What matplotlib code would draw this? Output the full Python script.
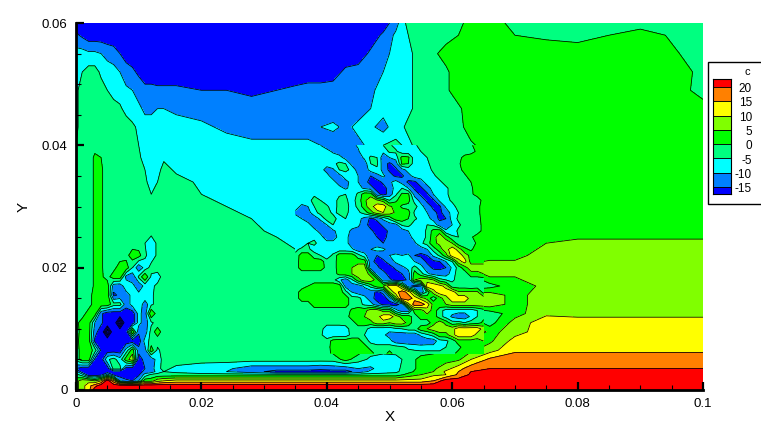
import numpy as np
import matplotlib
matplotlib.use("Agg")
import matplotlib.pyplot as plt
from matplotlib.patches import Rectangle

plt.rcParams["font.family"] = ["Liberation Sans", "DejaVu Sans"]

# grid positions (units of 0.001)
x_grid = [0, 1, 2, 3, 4, 5, 6, 7, 8, 9, 10, 11, 12, 13, 14,
          16, 20, 24, 28, 32,
          35, 37, 39, 41, 43, 45, 47, 49, 51, 53, 55, 57, 59, 61, 63,
          66, 70, 75, 80, 90, 100]
y_grid = [60, 58, 55, 52, 49, 46, 43, 40, 38, 36, 34, 32, 30, 28, 26, 24, 22,
          20, 18.5, 17, 15.5, 14, 12.5, 11, 9.5, 8, 6.5, 5, 3.5, 3, 2.5, 1.5, 0.7, 0]

# c, one row per y_grid value
c_y600 = [-18, -18, -18, -18, -18, -18, -18, -18, -18, -18, -18, -18, -18, -18, -18,
          -18, -18, -18, -18, -18,
          -18, -18, -18, -18, -18, -18, -18, -18, -12, -3, -3, -3, -3, -2, 3,
          3, -2, -3, -3, -2, -3]
c_y580 = [-14, -16, -18, -18, -18, -18, -18, -18, -18, -18, -18, -18, -18, -18, -18,
          -18, -18, -18, -18, -18,
          -18, -18, -18, -18, -18, -18, -18, -14, -9, -5, -3, -3, -2, 0, 3,
          3, 0, -1, -2, 2, -3]
c_y550 = [-8, -8, -9, -9, -10, -12, -13, -15, -17, -18, -18, -18, -18, -18, -18,
          -18, -18, -18, -18, -18,
          -18, -18, -18, -18, -18, -18, -14, -12, -8, -6, -3, -1, 2, 3, 3,
          3, 3, 3, 3, 5, -3]
c_y520 = [-7, -5, -3, -3, -6, -7, -8, -10, -13, -14, -16, -17, -17, -18, -18,
          -18, -18, -18, -18, -18,
          -18, -18, -18, -17, -14, -13, -13, -10, -8, -6, -3, -2, -1, 3, 3,
          3, 3, 3, 3, 5, -1]
c_y490 = [-6, -3, -3, -2, -3, -5, -7, -8, -9, -10, -12, -14, -14, -14, -14,
          -14, -15, -15, -16, -15,
          -14, -13, -13, -13, -13, -13, -11, -8, -8, -6, -3, -3, -1, 3, 3,
          3, 3, 3, 3, 4, -1]
c_y460 = [-6, -3, -2, -2, -2, -2, -3, -4, -7, -8, -9, -11, -11, -10, -10,
          -11, -12, -13, -13, -13,
          -13, -13, -13, -13, -12, -12, -10, -8, -8, -6, -3, -3, -3, -1, 3,
          3, 3, 3, 3, 3, 1]
c_y430 = [-6, -3, -2, -2, -2, -2, -2, -2, -2, -4, -6, -8, -8, -8, -8,
          -8, -9, -11, -12, -12,
          -12, -12, -10, -9, -11, -9, -9, -12, -7, -4, -4, -3, -3, -2, 3,
          3, 3, 3, 3, 3, 3]
c_y400 = [-5, -2, -2, -2, -2, -2, -2, -2, -2, -3, -5, -7, -8, -8, -8,
          -8, -8, -8, -9, -9,
          -9, -9, -10, -13, -12, -11, -9, -5, -4, -6, -3, -3, -3, -3, -1,
          3, 3, 3, 3, 3, 3]
c_y380 = [-4, -2, -3, 1, 0, -3, -3, -3, -3, -3, -4, -7, -8, -7, -6,
          -8, -8, -8, -8, -8,
          -8, -8, -8, -6, -12, -11, -4, -11, -7, 1, -6, -3, -3, 0, 3,
          3, 3, 3, 3, 3, 3]
c_y360 = [-3, -2, -3, 1, 1, -3, -3, -3, -3, -3, -3, -5, -8, -7, -3,
          -6, -8, -8, -8, -8,
          -8, -8, -8, -11, -4, -12, -7, -14, -16, -8, -7, -4, -3, -1, 2,
          3, 3, 3, 3, 3, 3]
c_y340 = [-3, -3, -3, 1, 1, -3, -3, -3, -3, -3, -3, -4, -7, -5, -3,
          -3, -6, -8, -8, -8,
          -8, -8, -8, -12, -10, -7, -16, -16, -9, -16, -13, -7, -3, -3, 0,
          3, 3, 3, 3, 3, 3]
c_y320 = [-2, -2, -3, 1, 1, -3, -3, -3, -3, -3, -3, -3, -5, -3, -3,
          -3, -5, -8, -8, -8,
          -8, -6, -6, -8, -6, -5, 4, -16, -6, 1, -16, -9, -5, -3, -1,
          3, 3, 3, 3, 3, 3]
c_y300 = [-2, -2, -3, 1, 1, -3, -3, -3, -3, -3, -3, -3, -3, -3, -3,
          -3, -3, -5, -8, -8,
          -8, -11, -4, -8, -4, -7, 6, 13, 4, -2, -8, -16, -8, -3, -3,
          3, 3, 3, 3, 3, 3]
c_y280 = [-2, -2, -3, 1, 1, -3, -3, -3, -3, -3, -3, -3, -3, -3, -3,
          -3, -3, -3, -5, -8,
          -8, -12, -12, -4, -7, -7, -12, -16, -12, -1, -7, -16, -8, -3, -2,
          3, 3, 3, 3, 3, 3]
c_y260 = [-2, -2, -3, 1, 1, -3, -3, -3, -3, -3, -3, -3, -3, -3, -3,
          -3, -3, -3, -4, -6,
          -8, -9, -12, -10, -8, -12, -14, -17, -13, -13, -4, 4, -12, -4, -2,
          3, 3, 3, 3, 3, 3]
c_y240 = [-2, -2, -3, 1, 1, -3, -3, -3, -3, -3, -3, -5, -8, -4, -3,
          -3, -3, -3, -3, -4,
          -6, -6, -8, -7, -8, -13, -13, -15, -13, -13, -5, 5, 6, -3, -3,
          3, 3, 5, 6, 6, 6]
c_y220 = [-2, -2, -3, 1, 1, -3, -3, -3, -2, 3, 2, -4, -8, -4, -3,
          -3, -3, -3, -3, -3,
          -4, 2, -4, -7, -7, -8, -13, -14, -9, -9, -16, -9, 5, 13, 3,
          3, 3, 8, 8, 8, 8]
c_y200 = [-2, -2, -3, 1, 1, -3, -2, 3, 3, -5, -14, -8, -3, -3, -3,
          -3, -3, -3, -3, -3,
          -3, 3, 2, -3, 3, 5, -14, -17, -13, -7, -9, -16, -16, -3, 6,
          8, 8, 8, 8, 8, 8]
c_y185 = [-2, -2, -3, 1, 1, -2, 3, 3, -12, -14, -4, 5, -6, -7, -3,
          -3, -3, -3, -3, -3,
          -3, -3, -3, -3, 3, 4, 3, -14, -16, -14, -5, 4, -12, -7, -1,
          5, 5, 8, 8, 8, 8]
c_y170 = [-2, -2, -3, 1, 1, 3, -13, -14, -6, -8, -14, -8, -6, -4, -3,
          -3, -3, -3, -3, -3,
          -3, 0, 2, 3, -13, -13, -13, 5, 13, 8, -14, 13, 10, -3, -4,
          -2, 3, 6, 8, 8, 8]
c_y155 = [-2, -2, -3, 3, 3, 3, -16, -14, -13, -8, -8, -6, -6, -3, -3,
          -3, -3, -3, -3, -3,
          -3, 3, 3, 3, -3, -8, -13, -16, 18, 13, 3, -6, 13, 13, 8,
          8, 3, 8, 8, 8, 8]
c_y140 = [-2, -3, -3, 3, 3, 3, -3, -3, -13, -8, -6, -13, -6, -3, -3,
          -3, -3, -3, -3, -3,
          -3, 3, 3, 3, 1, -3, -6, -16, -16, 18, 16, 3, 8, 8, 8,
          8, 3, 8, 8, 8, 8]
c_y125 = [-2, -3, 3, 3, -14, -18, -18, -18, -18, -18, -8, -13, 5, -3, -3,
          -3, -3, -3, -3, -3,
          -3, -3, -3, -3, -3, 3, 8, 13, 5, 3, 5, 3, -7, -13, -8,
          -3, 3, 9, 8, 8, 8]
c_y110 = [-2, 3, 3, -10, -14, -18, -18, -24, -18, -18, -8, -13, -6, -3, -3,
          -3, -3, -3, -3, -3,
          -3, -3, -3, -3, -3, 3, 8, 8, 3, 3, -3, 3, -3, -3, 3,
          -2, 7, 13, 13, 13, 13]
c_y095 = [-3, 3, 3, -13, -18, -24, -18, -18, -18, 5, -14, -13, -3, 3, -3,
          -3, -3, -3, -3, -3,
          -3, -3, -3, -8, -6, -3, -8, -8, -7, -5, 3, 8, 8, 13, 13,
          3, 8, 13, 13, 13, 13]
c_y080 = [-2, 3, 3, -16, -18, -18, -18, -18, -18, -18, -18, -8, -3, -3, -3,
          -3, -3, -3, -3, -3,
          -3, -3, -3, -3, -3, 3, 2, -3, -13, -14, -14, -13, -7, -3, 3,
          4, 12, 13, 13, 13, 13]
c_y065 = [-3, 3, 3, -2, -16, -18, -18, -18, -8, 3, -13, -12, 3, -6, -3,
          -3, -3, -3, -3, -3,
          -3, -3, -3, 2, 3, 3, -3, -3, -3, -3, -3, -2, 3, 3, 4,
          8, 14, 14, 14, 14, 14]
c_y050 = [-3, 3, 3, -16, -18, -6, -3, -8, 3, 8, -18, -13, -13, -8, -3,
          -3, -3, -3, -3, -3,
          -3, -3, -3, -3, 2, -3, -6, -8, -7, -3, 2, 3, 3, 4, 10,
          16, 18, 18, 18, 18, 18]
c_y035 = [-15, -18, -18, -18, -18, -18, -3, -3, -18, -18, -18, -15, -13, -6, -4,
          -6, -8, -9, -13, -13,
          -13, -13, -14, -13, -13, -10, -11, -7, -6, -3, 2, 4, 8, 13, 18,
          20, 20, 20, 20, 20, 20]
c_y030 = [-8, -18, -18, -18, -18, -18, -18, -18, -18, -18, -18, -13, -13, -8, -5,
          -6, -8, -10, -13, -17,
          -17, -17, -17, -17, -17, -13, -9, -7, -6, -2, 3, 5, 11, 15, 20,
          23, 23, 23, 23, 23, 23]
c_y025 = [-3, -8, -18, -18, -17, -8, -16, -18, -18, -18, -16, -8, -4, -3, -3,
          -3, -3, -3, -3, -3,
          -3, -3, -3, -3, -3, -3, -3, -3, -3, 2, 5, 9, 10, 16, 21,
          23, 23, 23, 23, 23, 23]
c_y015 = [3, 8, 8, 5, 10, 23, 12, -10, -14, -15, -10, 3, 3, 8, 10,
          12, 12, 12, 12, 12,
          12, 12, 12, 12, 12, 12, 12, 12, 12, 12, 12, 15, 23, 23, 23,
          23, 23, 23, 23, 23, 23]
c_y007 = [3, 8, 13, 18, 23, 23, 23, 23, 23, 23, 23, 23, 23, 23, 23,
          23, 23, 23, 23, 23,
          23, 23, 23, 23, 23, 23, 23, 23, 23, 23, 23, 23, 23, 23, 23,
          23, 23, 23, 23, 23, 23]
c_y000 = [3, 8, 13, 23, 23, 23, 23, 23, 23, 23, 23, 23, 23, 23, 23,
          23, 23, 23, 23, 23,
          23, 23, 23, 23, 23, 23, 23, 23, 23, 23, 23, 23, 23, 23, 23,
          23, 23, 23, 23, 23, 23]

c_rows = [c_y600, c_y580, c_y550, c_y520, c_y490, c_y460, c_y430, c_y400, c_y380,
          c_y360, c_y340, c_y320, c_y300, c_y280, c_y260, c_y240, c_y220, c_y200,
          c_y185, c_y170, c_y155, c_y140, c_y125, c_y110, c_y095, c_y080, c_y065,
          c_y050, c_y035, c_y030, c_y025, c_y015, c_y007, c_y000]

# finer readings over the wave packet, x = 35..65, y = 40..6 (units of 0.001)
wave_x = [35, 36, 37, 38, 39, 40, 41, 42, 43, 44, 45, 46, 47, 48, 49, 50,
          51, 52, 53, 54, 55, 56, 57, 58, 59, 60, 61, 62, 63, 64, 65]
wave_y = [40, 39, 38, 37, 36, 35, 34, 33, 32, 31, 30, 29, 28, 27, 26, 25, 24,
          23, 22, 21, 20, 19, 18, 17, 16, 15, 14, 13, 12, 11, 10, 9, 8, 7, 6]
wave_rows = [
    [-8, -8, -8, -8, -10, -13, -13, -13, -13, -12, -9, -8, -8, -8, -5, -4, -7, -8, -8, -6, -3, -3, -3, -3, -3, -3, -3, -2, -1, 3, 3],
    [-8, -8, -8, -8, -8, -8, -11, -13, -13, -13, -11, -5, -8, -8, -9, -4, -4, -8, -8, -8, -5, -3, -3, -3, -3, -3, -3, -3, -2, 1, 3],
    [-8, -8, -8, -8, -8, -8, -7, -8, -12, -13, -13, -9, -4, -5, -13, -10, -8, 2, 1, -8, -7, -5, -3, -3, -3, -2, -2, 2, 3, 3, 3],
    [-8, -8, -8, -8, -8, -8, -6, -4, -5, -12, -13, -13, -5, -4, -13, -16, -13, 1, 0, -8, -8, -6, -3, -3, -3, -3, -1, 3, 3, 3, 3],
    [-8, -8, -8, -8, -8, -12, -11, -5, -4, -6, -13, -13, -8, -6, -12, -16, -16, -12, -8, -8, -8, -7, -4, -3, -3, -3, -2, 2, 3, 3, 3],
    [-8, -8, -8, -8, -8, -8, -13, -12, -7, -5, -10, -13, -15, -12, -9, -13, -16, -16, -12, -8, -8, -8, -6, -3, -3, -3, -3, -1, 3, 3, 3],
    [-8, -8, -8, -8, -8, -8, -8, -13, -12, -8, -10, -13, -17, -17, -14, -11, -8, -12, -16, -16, -12, -8, -7, -6, -3, -3, -3, -3, 0, 3, 3],
    [-8, -8, -8, -8, -8, -8, -8, -8, -11, -8, -8, -11, -13, -17, -17, -13, -8, -5, -10, -16, -16, -12, -8, -7, -6, -3, -3, -3, -1, 3, 3],
    [-8, -8, -6, -6, -7, -8, -8, -6, -5, -8, -4, 3, 3, -13, -17, -13, -6, 1, 1, -12, -16, -16, -10, -8, -6, -3, -3, -3, -1, 2, 3],
    [-8, -8, -7, -3, -5, -8, -8, -3, -4, -7, -3, 4, 8, 6, 3, -5, -1, 3, 2, -7, -12, -16, -16, -9, -7, -4, -2, -3, -3, -3, 2],
    [-8, -11, -10, -5, -3, -4, -8, -3, -3, -7, -4, 3, 8, 13, 13, 6, 3, -1, -2, -3, -8, -13, -16, -16, -9, -7, -3, -3, -3, -2, 3],
    [-11, -13, -12, -7, -3, -3, -6, -4, -3, -8, -6, -3, 3, 8, 10, 8, 4, 3, 2, -6, -8, -10, -14, -16, -13, -8, -5, -3, -3, -2, 3],
    [-8, -10, -13, -13, -9, -3, -3, -7, -5, -8, -8, -12, -16, -14, -9, -4, 3, 3, 0, -4, -7, -8, -12, -16, -15, -8, -4, -3, -3, -3, 3],
    [-8, -8, -8, -13, -13, -10, -5, -8, -8, -8, -9, -13, -17, -17, -14, -13, -12, -4, -3, -8, -8, -5, -6, -13, -14, -10, -6, -3, -3, -3, 2],
    [-8, -8, -8, -8, -12, -13, -11, -8, -8, -11, -12, -13, -14, -17, -17, -14, -13, -13, -10, -7, -8, -4, 2, 3, -9, -8, -4, -3, -3, -3, 2],
    [-8, -8, -6, -6, -8, -13, -13, -8, -8, -13, -13, -13, -13, -15, -17, -13, -13, -13, -12, -8, -8, -4, 3, 8, 3, -4, -5, -2, -1, 3, 3],
    [-8, -8, -5, -4, -7, -8, -8, -8, -8, -13, -13, -13, -12, -13, -15, -13, -13, -13, -13, -11, -6, -3, 4, 6, 8, 5, -3, -3, -3, 1, 3],
    [-6, -4, -4, -7, -8, -7, -8, -8, -8, -9, -13, -13, -10, -8, -9, -12, -13, -13, -13, -14, -13, -10, -3, 3, 8, 13, 8, 1, -1, 3, 3],
    [-4, 3, 3, -3, -5, -8, -4, 3, 3, 3, -3, -8, -14, -15, -13, -10, -9, -10, -9, -15, -16, -15, -9, -4, 3, 13, 13, 8, 3, 3, 3],
    [-3, 3, 3, 3, 3, -3, -3, 3, 3, 3, 3, 3, -14, -16, -16, -13, -9, -5, -8, -10, -12, -16, -16, -15, -10, -5, 8, 12, 3, 3, 3],
    [-3, 3, 3, 3, 3, -2, -3, 3, 4, 5, 8, 8, -13, -14, -17, -17, -14, -12, -8, -3, -8, -13, -16, -16, -15, -9, -3, 3, 8, 8, 8],
    [-3, -3, -3, -3, -3, -3, -3, 2, 3, 5, 8, 8, 3, -13, -13, -17, -17, -15, -13, 3, -3, -9, -12, -13, -13, -7, -3, -3, 3, 3, 5],
    [-3, -3, -3, -3, -3, -3, -3, -9, -13, -6, 3, 8, 8, 3, -13, -14, -17, -17, -14, 5, 8, 8, 5, -3, -5, -6, -3, -3, -3, -3, -3],
    [-3, -3, 0, 3, 3, 3, 3, 3, -12, -13, -13, -9, -3, 3, 5, 13, 13, 3, -13, -17, -15, 13, 13, 12, 8, -3, -3, -3, -4, -3, -3],
    [-3, 3, 3, 3, 3, 3, 3, 3, -3, -10, -13, -13, -13, -16, -14, 5, 13, 18, 13, 3, -14, -4, 8, 13, 13, 13, 6, 6, 6, 6, -2],
    [-3, 3, 3, 3, 3, 3, 3, 3, 3, -3, -3, -8, -13, -17, -17, -13, 3, 18, 18, 13, 8, 3, -3, 3, 8, 13, 13, 13, 8, 8, 8],
    [-3, -3, -3, 3, 3, 3, 3, 3, 3, -3, -3, -6, -8, -13, -16, -17, -17, -13, 8, 18, 18, 13, 3, 3, 5, 8, 8, 8, 8, 8, 8],
    [-3, -3, -3, -3, -3, -3, -3, -3, -3, 1, 3, 3, 8, 8, 3, 3, -8, -13, -13, 3, 3, 8, 3, -3, -7, -8, -8, -8, -8, -5, -2],
    [-3, -3, -3, -3, -3, -3, -3, -3, -3, 3, 5, 5, 8, 8, 13, 13, 8, 3, 3, -3, 3, 3, 3, -3, -7, -11, -13, -13, -9, -5, -1],
    [-3, -3, -3, -3, -3, -3, -3, -3, -3, -3, 3, 3, 3, 8, 8, 5, 8, 8, 3, -3, -3, -3, 3, 8, 3, -3, -3, -5, -3, -2, 1],
    [-3, -3, -3, -3, -3, -8, -8, -8, -7, -3, -3, -3, -7, -8, -8, -8, -6, -5, -3, -3, 3, 5, 8, 8, 8, 8, 13, 13, 13, 13, 8],
    [-3, -3, -3, -3, -4, -8, -8, -8, -8, -3, -3, -5, -8, -8, -9, -12, -13, -13, -13, -13, -9, -6, -3, 3, 3, 8, 13, 13, 13, 8, 8],
    [-3, -3, -3, -3, -3, -3, 2, 3, 3, 3, 3, -3, -6, -8, -8, -8, -13, -14, -14, -14, -14, -13, -13, -7, -6, -3, 3, 3, 3, 3, 5],
    [-3, -3, -3, -3, -3, -3, 3, 3, 3, 3, 3, 3, -3, -3, -3, -3, -3, -4, -6, -7, -8, -8, -8, -8, -5, -3, -2, 3, 4, 4, 5],
    [-3, -3, -3, -3, -3, -3, 2, 3, 3, 3, 3, 3, 3, -3, -3, 2, -3, -3, -3, -3, -3, -3, -3, -3, -3, -2, 2, 3, 3, 4, 5],
]

band_levels = [-50, -15, -10, -5, 0, 5, 10, 15, 20, 30]
line_levels = [-23, -22, -21, -20, -15, -10, -5, 0, 5, 10, 15, 20]
band_colors = ["#0000ff", "#0080ff", "#00ffff", "#00ff80", "#00ff00",
               "#80ff00", "#ffff00", "#ff8000", "#ff0000"]
legend_labels = ["20", "15", "10", "5", "0", "-5", "-10", "-15"]
legend_values = [20, 15, 10, 5, 0, -5, -10, -15]
x_ticks = [0, 0.02, 0.04, 0.06, 0.08, 0.1]
y_ticks = [0, 0.02, 0.04, 0.06]

W, H = 761, 426


def fig_rect(x0, y_top, x1, y_bottom):
    # pixel box of the reference -> figure fractions
    return [x0 / W, 1 - y_bottom / H, (x1 - x0) / W, (y_bottom - y_top) / H]


def draw_field(ax, x, y, rows, z):
    xs = np.array(x) * 0.001
    ys = np.array(y) * 0.001
    c = np.array(rows, dtype=float)
    ax.contourf(xs, ys, c, levels=band_levels, colors=band_colors,
                antialiased=False, zorder=z)
    ax.contour(xs, ys, c, levels=line_levels, colors="k", linewidths=0.55,
               linestyles="solid", antialiased=True, zorder=z + 0.1)


fig = plt.figure(figsize=(W / 100, H / 100), dpi=100)
ax = fig.add_axes(fig_rect(76, 23, 703, 390))
draw_field(ax, x_grid, y_grid, c_rows, 1)
draw_field(ax, wave_x, wave_y, wave_rows, 1.2)

ax.set_xlim(0, 0.1)
ax.set_ylim(0, 0.06)
ax.spines["top"].set_visible(False)
ax.spines["right"].set_visible(False)
ax.spines["left"].set_linewidth(2)
ax.spines["bottom"].set_linewidth(2)
ax.set_xticks(x_ticks)
ax.set_xticklabels(["0", "0.02", "0.04", "0.06", "0.08", "0.1"])
ax.set_yticks(y_ticks)
ax.set_yticklabels(["0", "0.02", "0.04", "0.06"])
ax.set_xticks(np.arange(0, 0.1001, 0.005), minor=True)
ax.set_yticks(np.arange(0, 0.0601, 0.005), minor=True)
ax.tick_params(which="major", direction="in", length=6, width=1.6, labelsize=9.5, pad=6)
ax.tick_params(which="minor", direction="in", length=3.5, width=0.8)
ax.set_xlabel("X", fontsize=11, labelpad=0)
ax.set_ylabel("Y", fontsize=11, labelpad=8)

# legend box, drawn from the same levels
fig.add_artist(Rectangle((708 / W, 1 - 204 / H), 60 / W, 142 / H, transform=fig.transFigure,
                         facecolor="white", edgecolor="k", linewidth=1, zorder=-1))
lax = fig.add_axes(fig_rect(713, 79, 731, 194))
lax.set_xlim(0, 1)
lax.set_ylim(-17.45, 22.8)
edges = [22.8] + legend_values + [-17.45]
for i in range(len(edges) - 1):
    lax.bar(0.5, edges[i] - edges[i + 1], bottom=edges[i + 1], width=1,
            color=band_colors[::-1][i], edgecolor="k", linewidth=0.6)
lax.set_xticks([])
lax.set_yticks([])
for val, lbl in zip(legend_values, legend_labels):
    fig.text(752 / W, 1 - (87 + (20 - val) * 14.3 / 5 + 2) / H, lbl, fontsize=8.5,
             ha="right", va="center")
fig.text(747 / W, 1 - 72 / H, "c", fontsize=8, ha="center", va="center")

fig.savefig("out.png", dpi=100)
